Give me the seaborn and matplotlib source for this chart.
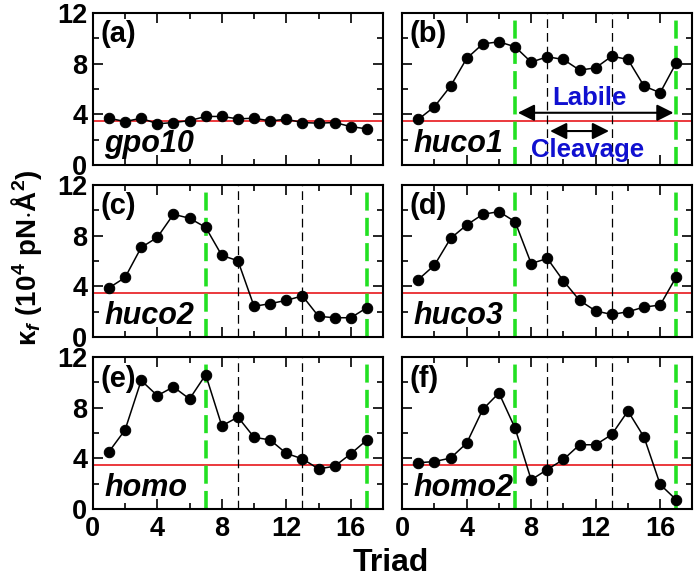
import numpy as np
import pandas as pd
import matplotlib
matplotlib.use("Agg")
import matplotlib.pyplot as plt
import seaborn as sns
from matplotlib.ticker import MultipleLocator

triads = list(range(1, 18))
gpo10 = [3.69, 3.43, 3.69, 3.25, 3.35, 3.5, 3.83, 3.83, 3.64, 3.69, 3.48, 3.61, 3.35, 3.3, 3.35, 3.03, 2.85]
huco1 = [3.6, 4.6, 6.22, 8.4, 9.55, 9.71, 9.32, 8.11, 8.53, 8.32, 7.48, 7.66, 8.58, 8.32, 6.22, 5.7, 8.06]
huco2 = [3.88, 4.7, 7.07, 7.86, 9.68, 9.37, 8.65, 6.44, 6.02, 2.43, 2.64, 2.9, 3.25, 1.64, 1.53, 1.53, 2.32]
huco3 = [4.54, 5.67, 7.78, 8.84, 9.68, 9.89, 9.1, 5.8, 6.2, 4.43, 2.9, 2.06, 1.79, 2.0, 2.37, 2.53, 4.75]
homo = [4.53, 6.25, 10.15, 8.95, 9.64, 8.69, 10.6, 6.57, 7.26, 5.67, 5.46, 4.4, 3.97, 3.18, 3.39, 4.37, 5.46]
homo2 = [3.66, 3.76, 4.03, 5.21, 7.87, 9.16, 6.39, 2.32, 3.13, 3.92, 5.08, 5.08, 5.89, 7.74, 5.68, 1.95, 0.74]

names = ["gpo10", "huco1", "huco2", "huco3", "homo", "homo2"]
letters = ["(a)", "(b)", "(c)", "(d)", "(e)", "(f)"]
series = [gpo10, huco1, huco2, huco3, homo, homo2]
threshold = 3.5
green_x = [7, 17]
black_x = [9, 13]

df = pd.concat([pd.DataFrame({"Triad": triads, "kappa": s, "name": n})
                for n, s in zip(names, series)], ignore_index=True)

sns.set_theme(style="ticks")
plt.rcParams["font.family"] = ["Liberation Sans", "DejaVu Sans"]
plt.rcParams["font.weight"] = "bold"
plt.rcParams["text.color"] = "black"
plt.rcParams["axes.labelcolor"] = "black"
plt.rcParams["xtick.color"] = "black"
plt.rcParams["ytick.color"] = "black"
plt.rcParams["mathtext.fontset"] = "custom"
plt.rcParams["mathtext.rm"] = "Liberation Sans:bold"
plt.rcParams["mathtext.it"] = "Liberation Sans:bold:italic"
plt.rcParams["mathtext.bf"] = "Liberation Sans:bold"

fig, axes = plt.subplots(3, 2, figsize=(6.98, 5.8), dpi=100, sharex=True, sharey=True)
fig.subplots_adjust(left=0.133, right=0.992, top=0.978, bottom=0.122, wspace=0.066, hspace=0.13)

for i, (ax, n, lt) in enumerate(zip(axes.flat, names, letters)):
    sub = df[df["name"] == n]
    ax.axhline(threshold, color="#e8161b", lw=1.2, zorder=1)
    if i > 0:
        for gx in green_x:
            ax.axvline(gx, color="#22e022", lw=2.6, ls=(0, (5, 2)), zorder=2)
        for bx in black_x:
            ax.axvline(bx, color="black", lw=0.9, ls=(0, (7, 4)), zorder=2)
    sns.lineplot(data=sub, x="Triad", y="kappa", ax=ax, color="black", lw=1.1,
                 marker="o", markersize=7.5, markeredgecolor="black", zorder=3)
    ax.set_xlim(0, 18)
    ax.set_ylim(0, 12)
    ax.xaxis.set_major_locator(MultipleLocator(4))
    ax.xaxis.set_minor_locator(MultipleLocator(2))
    ax.yaxis.set_major_locator(MultipleLocator(4))
    ax.yaxis.set_minor_locator(MultipleLocator(2))
    ax.tick_params(which="both", direction="in", top=True, right=True, width=1.2,
                   labelsize=19.5, colors="black")
    ax.tick_params(axis="x", which="major", length=7.5, pad=5)
    ax.tick_params(axis="y", which="major", length=7.5, pad=4)
    ax.tick_params(which="minor", length=4.5)
    for lab in ax.get_xticklabels() + ax.get_yticklabels():
        lab.set_fontweight("bold")
    for sp in ax.spines.values():
        sp.set_linewidth(1.5)
        sp.set_color("black")
    ax.set_xlabel("")
    ax.set_ylabel("")
    ax.text(0.025, 0.95, lt, transform=ax.transAxes, fontsize=21, fontweight="bold",
            ha="left", va="top")
    ax.text(0.04, 0.04, n, transform=ax.transAxes, fontsize=22, fontweight="bold",
            fontstyle="italic", ha="left", va="bottom")

axb = axes[0, 1]
axb.annotate("", xy=(7, 4.12), xytext=(17, 4.12),
             arrowprops=dict(arrowstyle="<|-|>", color="black", lw=1.5, mutation_scale=25))
axb.annotate("", xy=(9, 2.68), xytext=(13, 2.68),
             arrowprops=dict(arrowstyle="<|-|>", color="black", lw=1.5, mutation_scale=25))
axb.text(11.6, 5.3, "Labile", color="#1010d0", fontsize=18.5, fontweight="bold", ha="center", va="center")
axb.text(11.5, 1.2, "Cleavage", color="#1010d0", fontsize=18.5, fontweight="bold", ha="center", va="center")

fig.text(0.038, 0.555, r"$\mathrm{κ}_f$ (10$^4$ pN$\cdot$Å$^2$)", rotation=90, ha="center", va="center",
         fontsize=20, fontweight="bold")
fig.text(0.56, 0.03, "Triad", ha="center", va="center", fontsize=23, fontweight="bold")

fig.savefig("out.png", dpi=100)
